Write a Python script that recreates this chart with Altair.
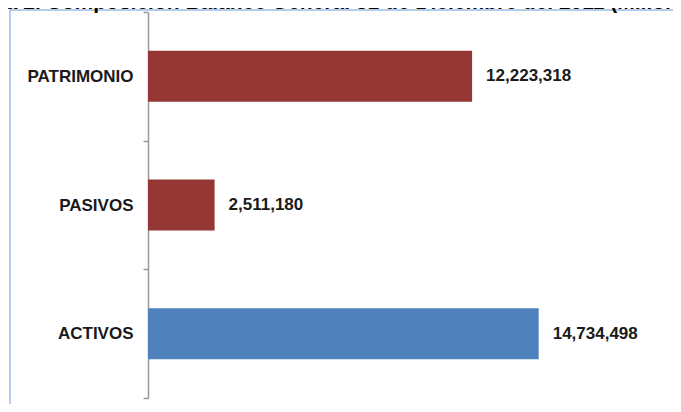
import altair as alt
import pandas as pd

categories = ["PATRIMONIO", "PASIVOS", "ACTIVOS"]
values = [12223318, 2511180, 14734498]
colors = ["#953735", "#953735", "#4F81BD"]
labels = ["12,223,318", "2,511,180", "14,734,498"]
title_text = "Gráfica 2. Composición Balance General 31 de Diciembre del 2011 (Millones de pesos)"

df = pd.DataFrame({"cat": categories, "val": values, "color": colors, "label": labels})
one = pd.DataFrame({"k": [0]})

W, H = 525, 386
FONT = "Liberation Sans"

y_axis = alt.Axis(
    tickBand="extent", domainColor="#999999", domainWidth=1.5,
    tickColor="#999999", tickWidth=1.5, tickSize=5,
    labelFont=FONT, labelFontSize=17, labelFontWeight="bold",
    labelColor="#1a1a1a", labelPadding=10, grid=False, title=None,
)
y = alt.Y("cat:N", sort=categories, title=None,
          scale=alt.Scale(paddingInner=0, paddingOuter=0), axis=y_axis)
x = alt.X("val:Q", scale=alt.Scale(domain=[0, 19800000]), axis=None)

bars = alt.Chart(df).mark_bar(size=51).encode(
    x=x, y=y, color=alt.Color("color:N", scale=None)
)
text = alt.Chart(df).mark_text(
    align="left", baseline="middle", dx=14, font=FONT, fontSize=17,
    fontWeight="bold", color="#1a1a1a"
).encode(x=x, y=alt.Y("cat:N", sort=categories), text="label:N")

frame_left = alt.Chart(one).mark_rule(color="#6a9bd8", strokeWidth=1).encode(
    x=alt.value(-138), y=alt.value(-2), y2=alt.value(H + 13)
)
frame_top = alt.Chart(one).mark_rule(color="#6a9bd8", strokeWidth=1).encode(
    x=alt.value(-138), x2=alt.value(W + 7), y=alt.value(-2)
)
title = alt.Chart(one).mark_text(
    align="left", baseline="alphabetic", font=FONT, fontSize=21,
    fontWeight="bold", color="#000000"
).encode(x=alt.value(-203), y=alt.value(-3), text=alt.value(title_text))

chart = alt.layer(frame_left, frame_top, title, bars, text).properties(
    width=W, height=H,
    autosize=alt.AutoSizeParams(type="none"),
    padding={"left": 140, "top": 4, "right": 0, "bottom": 6},
).configure_view(stroke=None)

chart.save("out.html", embed_options={"renderer": "svg", "actions": False})
